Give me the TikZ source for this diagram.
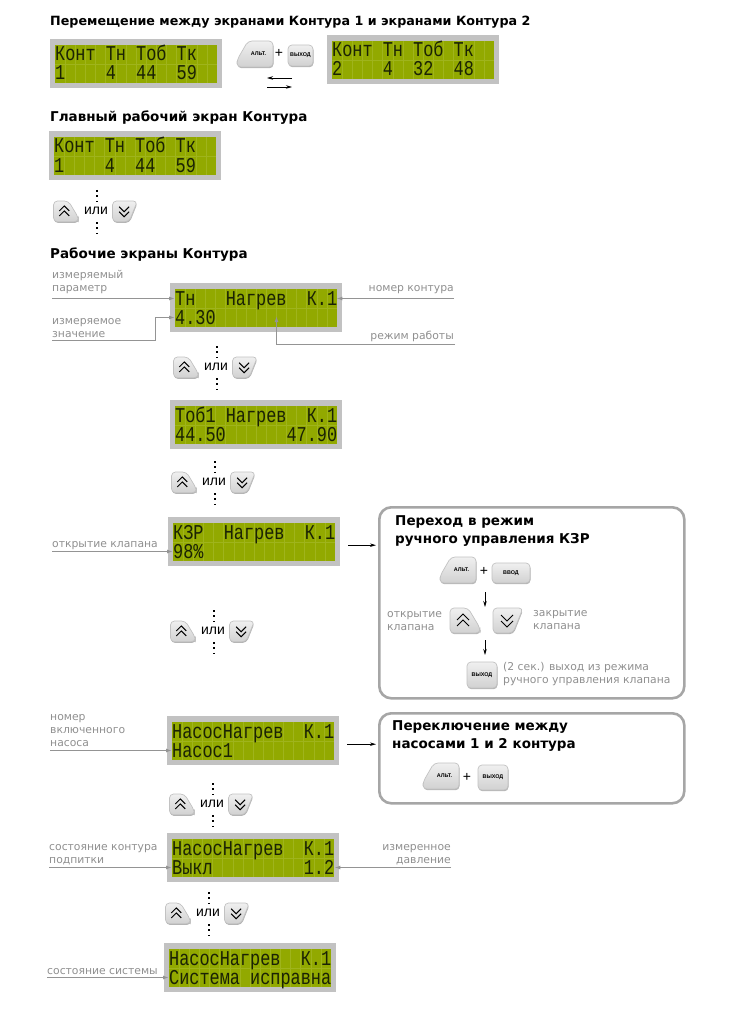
\documentclass[tikz,border=0pt]{standalone}
\usepackage{fontspec}
\setmainfont{DejaVu Sans}
\newfontfamily\lcdfont[FakeStretch=0.8]{Liberation Mono}
\newfontfamily\keyfont{Liberation Sans}
\usetikzlibrary{arrows.meta,shadows}

\definecolor{lcdgray}{HTML}{C2C2C2}
\definecolor{lcdgreen}{HTML}{92A900}
\definecolor{lcdline}{HTML}{9FB41C}
\definecolor{lcdink}{HTML}{1A2205}
\definecolor{labgray}{HTML}{8F8F8F}
\definecolor{boxgray}{HTML}{A6A6A6}
\definecolor{leadgray}{HTML}{949494}
\definecolor{keyshade}{HTML}{B4B4B4}

\tikzset{
    lcdframe/.style={fill=lcdgray,minimum width=172pt,minimum height=49pt,inner sep=0pt},
    lcdglass/.style={fill=lcdgreen,minimum width=162pt,minimum height=38pt,inner sep=0pt},
    lcdgrid/.style={lcdline,line width=0.35pt},
    lcdrow/.style={inner sep=0pt,text width=162pt,align=left,text height=13pt,text depth=0pt,
        text=lcdink,font=\lcdfont\fontsize{21.1}{22}\selectfont},
    heading/.style={inner sep=0pt,align=left,font=\bfseries\fontsize{13.5}{18}\selectfont},
    lab/.style={inner sep=0pt,text=labgray,font=\fontsize{10.8}{13}\selectfont},
    ortext/.style={inner sep=0pt,font=\keyfont\fontsize{14}{16}\selectfont},
    plustext/.style={inner sep=0pt,font=\keyfont\fontsize{14}{16}\selectfont},
    keyletters/.style={inner sep=0pt,font=\keyfont\bfseries\fontsize{5.4}{6}\selectfont},
    keyface/.style={draw=lcdgray,line width=0.7pt,top color=white!94!black,bottom color=white!82!black,
        general shadow={shadow xshift=0.5pt,shadow yshift=-1.2pt,fill=keyshade}},
    rectkey/.style={keyface,rounded corners=4pt,inner sep=0pt,keyletters},
    chevron/.style={line width=1pt,line join=miter},
    keydots/.style={line width=2pt,dash pattern=on 2pt off 3.4pt},
    leader/.style={draw=leadgray,line width=1.3pt,-{Latex[length=6pt,width=4pt]}},
    stepline/.style={line width=0.8pt,-{Stealth[length=6pt,width=3.5pt]}},
    panel/.style={draw=boxgray,line width=2.6pt,rounded corners=12pt}
}

% LCD: name, left, top, first row, second row
\newcommand{\lcdscreen}[5]{
    \begin{scope}[shift={(#2,#3)}]
        \node[lcdframe,anchor=north west] (#1) at (0,0) {};
        \node[lcdglass,anchor=north west] (#1g) at (5,6) {};
        \foreach \c in {1,...,15} {
            \draw[lcdgrid] ({5+\c*10.125},6) -- ({5+\c*10.125},44);
        }
        \draw[lcdgrid] (5,25) -- (167,25);
        \node[lcdrow,anchor=west] (#1a) at (5,15.5) {\def~{\hspace*{10.125pt}}#4};
        \node[lcdrow,anchor=west] (#1b) at (5,34.5) {\def~{\hspace*{10.125pt}}#5};
    \end{scope}
}

% Keys: left, top, scale
\newcommand{\upkey}[3]{
    \begin{scope}[shift={(#1,#2)},scale=#3]
        \path[keyface,rounded corners=4pt] (0,0) -- (18,0) -- (30,20) -- (30,25) -- (0,25) -- cycle;
        \draw[chevron] (7,12) -- (13,6) -- (19,12);
        \draw[chevron] (7,18) -- (13,12) -- (19,18);
    \end{scope}
}
\newcommand{\downkey}[3]{
    \begin{scope}[shift={(#1,#2)},scale=#3]
        \path[keyface,rounded corners=4pt] (0,0) -- (30,0) -- (20,25) -- (0,25) -- cycle;
        \draw[chevron] (8,7) -- (14,13) -- (20,7);
        \draw[chevron] (8,13) -- (14,19) -- (20,13);
    \end{scope}
}
% name, left, top
\newcommand{\altkey}[3]{
    \begin{scope}[shift={(#2,#3)}]
        \path[keyface,rounded corners=4pt] (11,0) -- (36,0) -- (36,26) -- (0,26) -- (0,19) -- cycle;
        \node[keyletters] (#1) at (21.5,13) {АЛЬТ.};
    \end{scope}
}
% name, centre of the word
\newcommand{\orkeys}[3]{
    \upkey{#2-42.5}{#3-10}{0.83}
    \downkey{#2+16.5}{#3-10}{0.83}
    \node[ortext] (#1) at (#2,#3) {или};
    \draw[keydots] ([xshift=1pt,yshift=21pt]#1.center) -- ([xshift=1pt,yshift=9pt]#1.center);
    \draw[keydots] ([xshift=1pt,yshift=-11pt]#1.center) -- ([xshift=1pt,yshift=-23pt]#1.center);
}

\begin{document}
\begin{tikzpicture}[x=1pt,y=-1pt]
    \useasboundingbox (0,0) rectangle (730,1011);

    % Headings
    \node[heading,anchor=west,font=\bfseries\fontsize{12.7}{18}\selectfont] (headMove) at (50,22.5) {Перемещение между экранами Контура 1 и экранами Контура 2};
    \node[heading,anchor=west] (headMain) at (50,117.5) {Главный рабочий экран Контура};
    \node[heading,anchor=west] (headWork) at (50,254.5) {Рабочие экраны Контура};

    % Screens
    \lcdscreen{scrOne}{50}{39}{Конт~Тн~Тоб~Тк}{1~~~~4~~44~~59}
    \lcdscreen{scrTwo}{327}{35}{Конт~Тн~Тоб~Тк}{2~~~~4~~32~~48}
    \lcdscreen{scrMain}{49}{131}{Конт~Тн~Тоб~Тк}{1~~~~4~~44~~59}
    \lcdscreen{scrTn}{170}{283}{Тн~~~Нагрев~~К.1}{4.30}
    \lcdscreen{scrTob}{170}{400}{Тоб1~Нагрев~~К.1}{44.50~~~~~~47.90}
    \lcdscreen{scrKzr}{168}{517}{КЗР~~Нагрев~~К.1}{98\%}
    \lcdscreen{scrPump}{167}{716}{НасосНагрев~~К.1}{Насос1}
    \lcdscreen{scrFill}{167}{833}{НасосНагрев~~К.1}{Выкл~~~~~~~~~1.2}
    \lcdscreen{scrSys}{164}{943}{НасосНагрев~~К.1}{Система~исправна}

    % Keys between screens 1 and 2
    \altkey{keyAltA}{237}{41}
    \node[plustext] (plusA) at (279,53) {+};
    \node[rectkey,minimum width=25pt,minimum height=21pt] (keyExitA) at (300.5,55.5) {ВЫХОД};
    \coordinate (swapA) at (292,78);
    \coordinate (swapB) at (267,78);
    \coordinate (swapC) at (267,87);
    \coordinate (swapD) at (292,87);
    \draw[stepline] (swapA) -- (swapB);
    \draw[stepline] (swapC) -- (swapD);

    % Up and down
    \orkeys{orA}{96}{211}
    \orkeys{orB}{216}{367}
    \orkeys{orC}{214}{482}
    \orkeys{orD}{213}{631}
    \orkeys{orE}{212}{804}
    \orkeys{orF}{208}{913}

    % Labels of the screens
    \node[lab,anchor=north west,align=left] (labParam) at (52,270.5) {измеряемый\\параметр};
    \node[lab,anchor=north west,align=left] (labValue) at (52,318.5) {измеряемое\\значение};
    \node[lab,anchor=east] (labLoop) at (454,290) {номер контура};
    \node[lab,anchor=east] (labMode) at (454,336) {режим работы};
    \node[lab,anchor=west] (labOpen) at (52,546) {открытие клапана};
    \node[lab,anchor=north west,align=left] (labPump) at (50,714) {номер\\включенного\\насоса};
    \node[lab,anchor=north west,align=left] (labFill) at (49,844) {состояние контура\\подпитки};
    \node[lab,anchor=north east,align=right] (labPress) at (451,844) {измеренное\\давление};
    \node[lab,anchor=west] (labSys) at (47,972) {состояние системы};

    \draw[leader] (labParam.west |- scrTna.west) -- (scrTna.west);
    \coordinate (valueEnd) at (52,340.5);
    \draw[leader] (valueEnd) -- (155.5,340.5) |- (scrTnb.west);
    \draw[leader] (labLoop.east |- scrTna.east) -- ([xshift=-1pt]scrTna.east);
    \coordinate (modeEnd) at (455,344.5);
    \coordinate (modeTip) at (276.5,316);
    \draw[leader] (modeEnd) -| (modeTip);
    \draw[leader] (labOpen.west |- scrKzrb.west) -- (scrKzrb.west);
    \draw[leader] (labPump.west |- scrPumpb.west) -- (scrPumpb.west);
    \draw[leader] (labFill.west |- scrFillb.west) -- (scrFillb.west);
    \draw[leader] (labPress.east |- scrFillb.east) -- (scrFillb.east);
    \draw[leader] (labSys.west |- scrSysb.west) -- (scrSysb.west);

    % Manual mode panel
    \node[panel,anchor=north west,minimum width=305pt,minimum height=191pt] (panelManual) at (378,506) {};
    \node[heading,anchor=north west] (headManual) at (395,515) {Переход в режим\\ручного управления КЗР};
    \altkey{keyAltB}{440}{557}
    \node[plustext] (plusB) at (484,571) {+};
    \node[rectkey,minimum width=38pt,minimum height=20pt] (keyEnter) at (511,573) {ВВОД};
    \upkey{450}{608}{1}
    \downkey{493}{608}{1}
    \node[lab,anchor=north west,align=left] (labKeyOpen) at (387,611) {открытие\\клапана};
    \node[lab,anchor=north west,align=left] (labKeyClose) at (533,610.5) {закрытие\\клапана};
    \node[rectkey,minimum width=30pt,minimum height=26pt] (keyExitB) at (482,675) {ВЫХОД};
    \node[lab,anchor=north west,align=left] (labExit) at (503,662.5) {(2 сек.) выход из режима\\ручного управления клапана};
    \coordinate (stepA) at (485,592);
    \coordinate (stepB) at (485,607);
    \coordinate (stepC) at (485,640);
    \coordinate (stepD) at (485,655);
    \draw[stepline] (stepA) -- (stepB);
    \draw[stepline] (stepC) -- (stepD);
    \draw[stepline] ([xshift=8pt,yshift=-3.5pt]scrKzr.east) -- ([xshift=-2pt,yshift=-3.5pt]panelManual.west |- scrKzr.east);

    % Pump panel
    \node[panel,anchor=north west,minimum width=305pt,minimum height=90pt] (panelPump) at (378,712) {};
    \node[heading,anchor=north west] (headPump) at (392,720) {Переключение между\\насосами 1 и 2 контура};
    \altkey{keyAltC}{423}{763}
    \node[plustext] (plusC) at (467,777) {+};
    \node[rectkey,minimum width=30pt,minimum height=25pt] (keyExitC) at (493,777.5) {ВЫХОД};
    \draw[stepline] ([xshift=8pt,yshift=-3.5pt]scrPump.east) -- ([xshift=-2pt,yshift=-3.5pt]panelPump.west |- scrPump.east);

\end{tikzpicture}
\end{document}
